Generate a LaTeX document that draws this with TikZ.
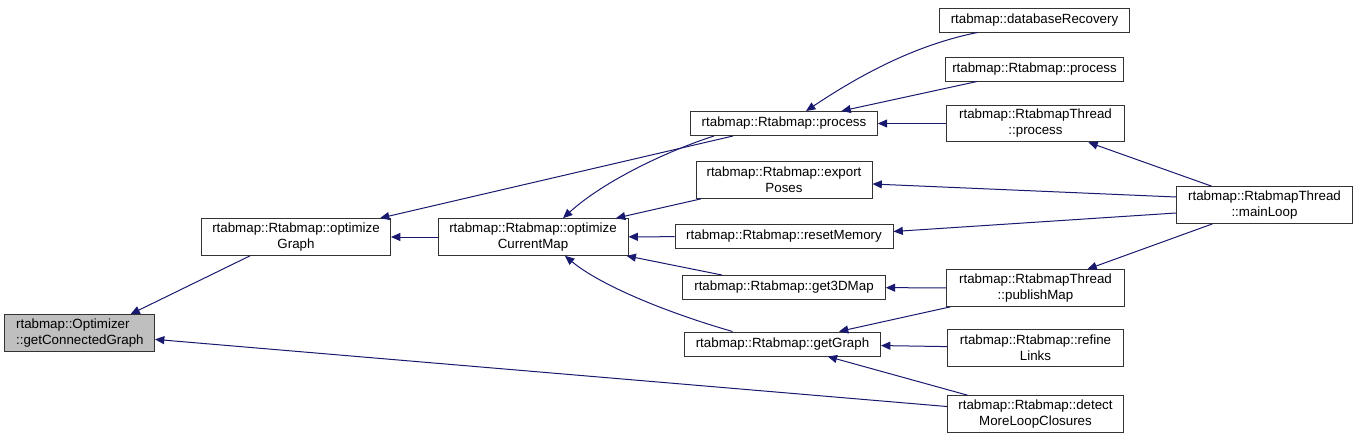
\documentclass[tikz,border=0pt]{standalone}
\usepackage{fontspec}
\setmainfont{Liberation Sans}
\usetikzlibrary{arrows.meta,calc}
\definecolor{edgeblue}{RGB}{25,25,112}
\definecolor{rootgray}{RGB}{191,191,191}

\begin{document}
\begin{tikzpicture}[x=0.75pt,y=-0.75pt,
		fn/.style={draw=black!80,line width=0.75pt,fill=white,align=center,font=\fontsize{10}{12}\selectfont,inner sep=0pt},
		one/.style={fn,minimum height=18pt},
		two/.style={fn,minimum height=27.5pt},
		call/.style={draw=edgeblue,line width=0.75pt,-{Triangle[length=7pt,width=6pt]}}]
			\path[fill=white] (0,0) rectangle (1357,439);

			\node[two,fill=rootgray,align=left,text width=95pt,minimum width=112.5pt] (conn) at (79.5,333) {rtabmap::Optimizer\\::getConnectedGraph};
			\node[two,minimum width=141.75pt] (optG) at (296,237) {rtabmap::Rtabmap::optimize\\Graph};
			\node[two,minimum width=142.5pt] (optCM) at (533,237) {rtabmap::Rtabmap::optimize\\CurrentMap};
			\node[one,minimum width=140pt] (procM) at (784,123.5) {rtabmap::Rtabmap::process};
			\node[two,minimum width=132pt] (export) at (784,180) {rtabmap::Rtabmap::export\\Poses};
			\node[one,minimum width=163.5pt] (reset) at (784,236.5) {rtabmap::Rtabmap::resetMemory};
			\node[one,minimum width=152pt] (get3D) at (784,287.5) {rtabmap::Rtabmap::get3DMap};
			\node[one,minimum width=147pt] (getG) at (782.5,344) {rtabmap::Rtabmap::getGraph};
			\node[one,minimum width=143pt] (dbRec) at (1034.5,20) {rtabmap::databaseRecovery};
			\node[one,minimum width=133pt] (procR) at (1034.5,69) {rtabmap::Rtabmap::process};
			\node[two,minimum width=133pt] (thrProc) at (1035.5,123.5) {rtabmap::RtabmapThread\\::process};
			\node[two,minimum width=132pt] (mainLoop) at (1264.5,205) {rtabmap::RtabmapThread\\::mainLoop};
			\node[two,minimum width=133pt] (publish) at (1035.5,288) {rtabmap::RtabmapThread\\::publishMap};
			\node[two,minimum width=132pt] (refine) at (1035.5,348) {rtabmap::Rtabmap::refine\\Links};
			\node[two,minimum width=132pt] (detect) at (1035.5,414) {rtabmap::Rtabmap::detect\\MoreLoopClosures};

			\draw[call] ($(optG.south)+(-46,0)$) -- ($(conn.north)+(51,0)$);
			\draw[call] (detect) -- (conn);
			\draw[call] (optCM) -- (optG);
			\draw[call] ($(procM.south)+(-51,0)$) -- ($(optG.north)+(84,0)$);
			\draw[call] ($(procM.south)+(-70,0)$) .. controls (670,150) and (605,180) .. ($(optCM.north)+(30,0)$);
			\draw[call] (export) -- (optCM);
			\draw[call] (reset) -- (optCM);
			\draw[call] (get3D) -- (optCM);
			\draw[call] ($(getG.north)+(-50,0)$) .. controls (665,312) and (600,285) .. ($(optCM.south)+(32,0)$);
			\draw[call] ($(dbRec.south)+(-57,0)$) .. controls (915,45) and (860,75) .. ($(procM.north)+(22,0)$);
			\draw[call] (procR) -- (procM);
			\draw[call] (thrProc) -- (procM);
			\draw[call] (mainLoop) -- (thrProc);
			\draw[call] ($(mainLoop.west)+(0,-8)$) -- ($(export.east)+(0,4)$);
			\draw[call] ($(mainLoop.west)+(0,8)$) -- ($(reset.east)+(0,-5)$);
			\draw[call] (mainLoop) -- (publish);
			\draw[call] (publish) -- (get3D);
			\draw[call] (publish) -- (getG);
			\draw[call] (refine) -- (getG);
			\draw[call] (detect) -- (getG);
		\end{tikzpicture}
\end{document}
